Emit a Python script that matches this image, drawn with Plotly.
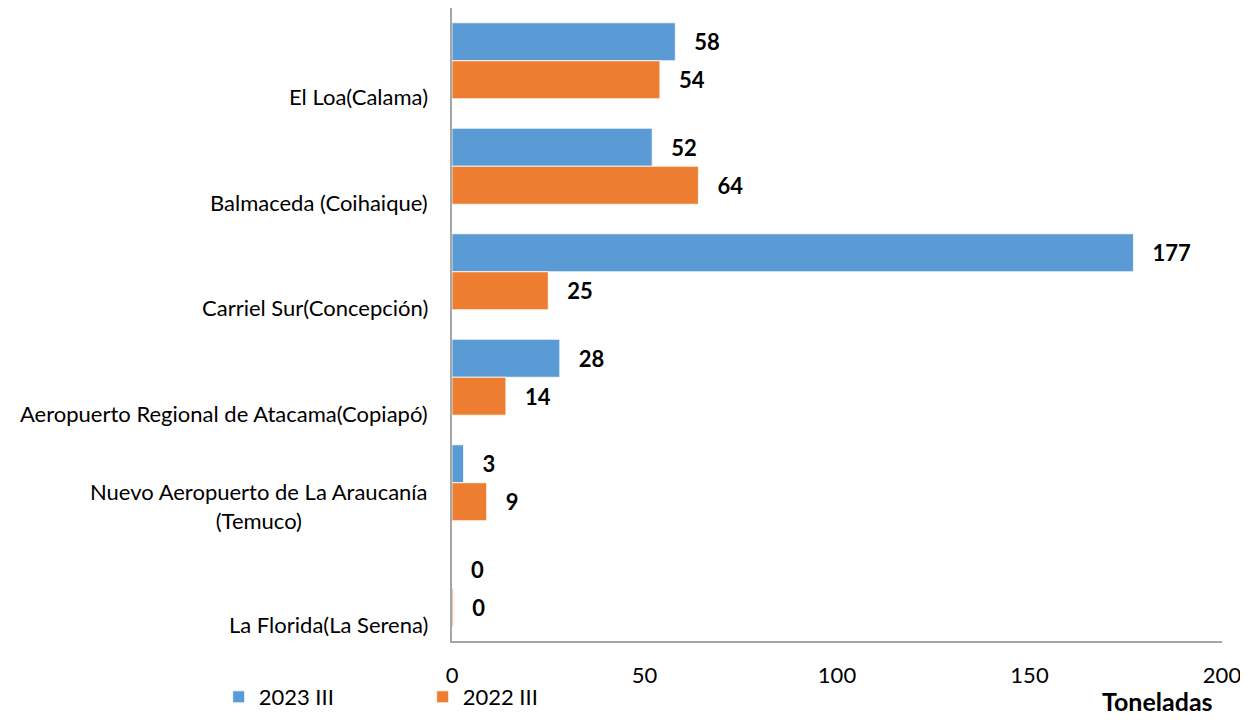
import plotly.graph_objects as go

COLOR_2023 = "#5B9BD5"
COLOR_2022 = "#ED7D31"
COLOR_AXIS = "#A6A6A6"
COLOR_FONT = "#000000"
FONT_FAMILY = "Lato"
FONT_SIZE = 22

categories = [
    "El Loa(Calama)",
    "Balmaceda (Coihaique)",
    "Carriel Sur(Concepción)",
    "Aeropuerto Regional de Atacama(Copiapó)",
    "Nuevo Aeropuerto de La Araucanía<br>(Temuco)",
    "La Florida(La Serena)",
]
values_2023 = [58, 52, 177, 28, 3, 0]
values_2022 = [54, 64, 25, 14, 9, 0.3]
x_ticks = [0, 50, 100, 150, 200]

fig = go.Figure()

# 2023 series first so it sits on top inside each group (reversed axis)
fig.add_trace(go.Bar(y = categories,
                     x = values_2023,
                     name = "2023 III",
                     orientation = "h",
                     marker = dict(color = COLOR_2023, line = dict(color = "white", width = 0.8)),
                     texttemplate = "\u00a0\u00a0\u00a0%{x:.0f}",
                     textposition = "outside",
                     cliponaxis = False,
                     textfont = dict(family = FONT_FAMILY, size = FONT_SIZE, color = COLOR_FONT, weight = "bold")))

fig.add_trace(go.Bar(y = categories,
                     x = values_2022,
                     name = "2022 III",
                     orientation = "h",
                     marker = dict(color = COLOR_2022, line = dict(color = "white", width = 0.8)),
                     texttemplate = "\u00a0\u00a0\u00a0%{x:.0f}",
                     textposition = "outside",
                     cliponaxis = False,
                     textfont = dict(family = FONT_FAMILY, size = FONT_SIZE, color = COLOR_FONT, weight = "bold")))

#category labels sit low in each band, like the original
for cat in categories:
    two_lines = "<br>" in cat
    fig.add_annotation(text = cat,
                       xref = "paper",
                       yref = "y",
                       x = 0,
                       y = cat,
                       xanchor = "right",
                       yanchor = "middle",
                       xshift = -22,
                       yshift = -23 if two_lines else -36,
                       align = "center",
                       showarrow = False,
                       font = dict(family = FONT_FAMILY, size = FONT_SIZE, color = COLOR_FONT))

fig.add_annotation(text = "<b>Toneladas</b>",
                   xref = "paper",
                   yref = "paper",
                   x = 0.9156,
                   y = -0.1216,
                   xanchor = "center",
                   yanchor = "bottom",
                   showarrow = False,
                   font = dict(family = FONT_FAMILY, size = 25, color = COLOR_FONT))

fig.update_layout(width = 1232,
                  height = 710,
                  margin = dict(l = 444, r = 18, t = 0, b = 77, autoexpand = False),
                  plot_bgcolor = "white",
                  paper_bgcolor = "white",
                  barmode = "group",
                  bargap = 0.28,
                  bargroupgap = 0,
                  font = dict(family = FONT_FAMILY, size = FONT_SIZE, color = COLOR_FONT),
                  legend = dict(orientation = "h",
                                x = -0.303,
                                xanchor = "left",
                                yref = "container",
                                y = 0,
                                yanchor = "bottom",
                                bgcolor = "rgba(0,0,0,0)",
                                entrywidth = 159,
                                entrywidthmode = "pixels",
                                traceorder = "normal",
                                font = dict(family = FONT_FAMILY, size = FONT_SIZE, color = COLOR_FONT)),
                  xaxis = dict(range = [0, 200],
                               tickvals = x_ticks,
                               showgrid = False,
                               zeroline = False,
                               showline = True,
                               linecolor = COLOR_AXIS,
                               linewidth = 1.5,
                               ticks = "",
                               ticklabelstandoff = 14,
                               ticklabeloverflow = "allow"),
                  yaxis = dict(autorange = "reversed",
                               showticklabels = False,
                               showgrid = False,
                               zeroline = False,
                               showline = True,
                               linecolor = COLOR_AXIS,
                               linewidth = 1.5,
                               ticks = ""))

fig.write_html("out.html")
